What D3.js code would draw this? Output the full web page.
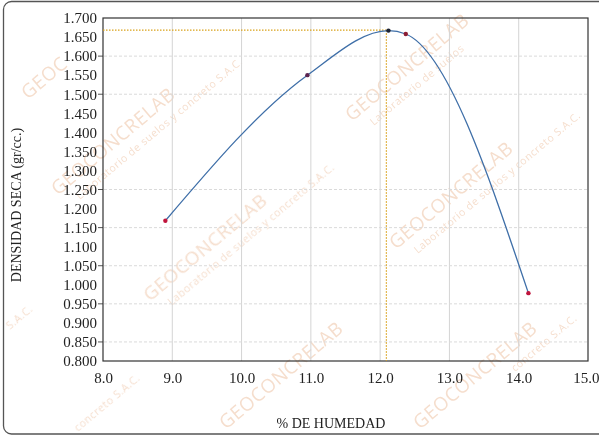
<!DOCTYPE html>
<html>
<head>
<meta charset="utf-8">
<script src="https://cdn.jsdelivr.net/npm/d3@7"></script>
<style>
  html, body { margin: 0; padding: 0; background: #ffffff; }
  svg { display: block; }
  .serif { font-family: "Liberation Serif", "DejaVu Serif", serif; }
  .wm { font-family: "Open Sans", "DejaVu Sans", sans-serif; }
</style>
</head>
<body>
<svg id="chart" width="599" height="438"></svg>
<script>
// Compaction test results: moisture content (%) vs dry density (gr/cc)
const moisture = [8.90, 10.95, 12.12, 12.37, 14.14];
const dryDensity = [1.168, 1.550, 1.667, 1.658, 0.978];

// Optimum moisture content and maximum dry density
const optimumMoisture = 12.09;
const maxDryDensity = 1.668;

// Axis ticks
const xTicks = [8, 9, 10, 11, 12, 13, 14, 15];
const yTicks = d3.range(0, 19).map(i => +(0.8 + i * 0.05).toFixed(3));
const yGridValues = [0.850, 0.950, 1.050, 1.150, 1.250, 1.500, 1.600];

const xTitle = "% DE HUMEDAD";
const yTitle = "DENSIDAD SECA (gr/cc.)";

// Lab watermark text
const markBig = "GEOCONCRELAB";
const markSmall = "Laboratorio de suelos y concreto S.A.C.";
const markShort = "Laboratorio de suelos";
const markTail = "concreto S.A.C.";
const markEnd = "S.A.C.";

const pointColors = ["#c0143c", "#5b2450", "#1c2233", "#8c1d33", "#c0143c"];

const svg = d3.select("#chart");
const plot = { left: 103, right: 588, top: 18, bottom: 361 };

const x = d3.scaleLinear().domain([8, 15]).range([plot.left, plot.right]);
const y = d3.scaleLinear().domain([0.8, 1.7]).range([plot.bottom, plot.top]);

// outer rounded frame
svg.append("rect")
  .attr("x", 3.5).attr("y", 1.5)
  .attr("width", 610).attr("height", 432.5)
  .attr("rx", 8).attr("ry", 8)
  .attr("fill", "none").attr("stroke", "#555").attr("stroke-width", 1.3);

// watermark layer
const wm = svg.append("g").attr("class", "wm").attr("fill", "#e8b088").attr("opacity", 0.42);
// [x, y, big text?, small text]
const wmSpots = [
  [58, 196, true, markSmall],
  [150, 302, true, markSmall],
  [396, 250, true, markSmall],
  [352, 122, true, markShort],
  [226, 430, true, null],
  [420, 430, true, null]
];
wmSpots.forEach(([px, py, big, small]) => {
  const g = wm.append("g").attr("transform", `translate(${px},${py}) rotate(-40)`);
  if (big) g.append("text").attr("font-size", 19).attr("letter-spacing", 0.5).text(markBig);
  if (small) g.append("text").attr("x", 14).attr("y", 17)
    .attr("font-size", 10.5).attr("letter-spacing", 0.6).text(small);
});
[[10, 330, markEnd], [78, 432, markTail], [515, 372, markTail], [28, 100, "GEOC"]].forEach(([px, py, t]) => {
  wm.append("text")
    .attr("transform", `translate(${px},${py}) rotate(-40)`)
    .attr("font-size", t === "GEOC" ? 19 : 10.5).attr("letter-spacing", 0.6).text(t);
});

// vertical grid lines
svg.append("g")
  .selectAll("line").data(xTicks.slice(1, -1)).join("line")
  .attr("x1", d => x(d)).attr("x2", d => x(d))
  .attr("y1", plot.top).attr("y2", plot.bottom)
  .attr("stroke", "#d4d4d4").attr("stroke-width", 1);

// horizontal grid lines with short ticks left of the axis
svg.append("g")
  .selectAll("line").data(yGridValues).join("line")
  .attr("x1", plot.left + 1).attr("x2", plot.right)
  .attr("y1", d => y(d)).attr("y2", d => y(d))
  .attr("stroke", "#dadada").attr("stroke-width", 1)
  .attr("stroke-dasharray", "3,2");
svg.append("g")
  .selectAll("line").data(yGridValues).join("line")
  .attr("x1", plot.left - 5).attr("x2", plot.left)
  .attr("y1", d => y(d)).attr("y2", d => y(d))
  .attr("stroke", "#555").attr("stroke-width", 1);

// plot frame
svg.append("rect")
  .attr("x", plot.left).attr("y", plot.top)
  .attr("width", plot.right - plot.left).attr("height", plot.bottom - plot.top)
  .attr("fill", "none").attr("stroke", "#333").attr("stroke-width", 1.2);

// y axis labels
const yAxis = d3.axisLeft(y).tickValues(yTicks).tickFormat(d3.format(".3f")).tickSize(0).tickPadding(6);
const gy = svg.append("g").attr("transform", `translate(${plot.left},0)`).call(yAxis);
gy.select(".domain").remove();
gy.selectAll("text").attr("class", "serif").attr("font-size", 15).attr("fill", "#222");

// x axis labels
const xAxis = d3.axisBottom(x).tickValues(xTicks).tickFormat(d3.format(".1f")).tickSize(0).tickPadding(11);
const gx = svg.append("g").attr("transform", `translate(0,${plot.bottom})`).call(xAxis);
gx.select(".domain").remove();
gx.selectAll("text").attr("class", "serif").attr("font-size", 15).attr("fill", "#222");
// keep the last label inside the page
gx.selectAll(".tick").filter(d => d === 15).select("text").attr("text-anchor", "end").attr("dx", 11);

// axis titles
svg.append("text").attr("class", "serif")
  .attr("x", 331).attr("y", 428)
  .attr("text-anchor", "middle")
  .attr("font-size", 14).attr("fill", "#222")
  .text(xTitle);

svg.append("text").attr("class", "serif")
  .attr("transform", `translate(21,205) rotate(-90)`)
  .attr("text-anchor", "middle")
  .attr("font-size", 14).attr("fill", "#222")
  .text(yTitle);

// optimum guide lines
const guide = svg.append("g")
  .attr("stroke", "#d9a21b").attr("stroke-width", 1.2)
  .attr("stroke-dasharray", "1.5,1.5").attr("fill", "none");
guide.append("line")
  .attr("x1", plot.left).attr("x2", x(optimumMoisture))
  .attr("y1", y(maxDryDensity)).attr("y2", y(maxDryDensity));
guide.append("line")
  .attr("x1", x(optimumMoisture)).attr("x2", x(optimumMoisture))
  .attr("y1", y(maxDryDensity)).attr("y2", plot.bottom);

// compaction curve
const pts = moisture.map((m, i) => [m, dryDensity[i]]);
const line = d3.line()
  .x(d => x(d[0])).y(d => y(d[1]))
  .curve(d3.curveMonotoneX);
svg.append("path")
  .datum(pts)
  .attr("d", line)
  .attr("fill", "none")
  .attr("stroke", "#3f6fa8")
  .attr("stroke-width", 1.3);

// test points
svg.append("g")
  .selectAll("circle").data(pts).join("circle")
  .attr("cx", d => x(d[0])).attr("cy", d => y(d[1]))
  .attr("r", 2.2)
  .attr("fill", (d, i) => pointColors[i]);
</script>
</body>
</html>
